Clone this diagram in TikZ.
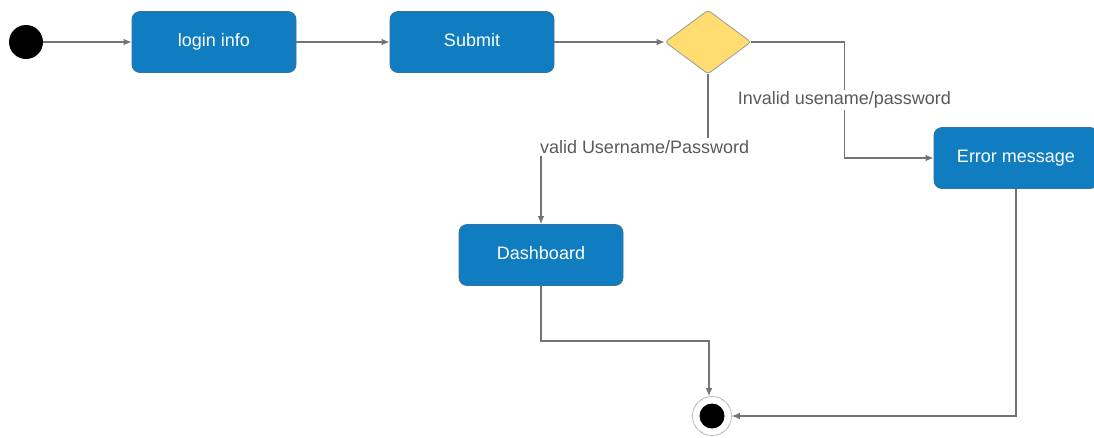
\documentclass[tikz,border=0pt]{standalone}
\usepackage{fontspec}
\setmainfont{Liberation Sans}
\usetikzlibrary{shapes.geometric,arrows.meta}
\definecolor{boxblue}{HTML}{0F7DC0}
\definecolor{boxedge}{HTML}{3573A3}
\definecolor{decyellow}{HTML}{FFDD71}
\definecolor{linegray}{HTML}{737373}
\definecolor{textgray}{HTML}{5A5A5A}
\begin{document}
\begin{tikzpicture}[x=1pt,y=-1pt,
  state/.style={draw=boxedge,line width=0.8pt,fill=boxblue,text=white,rounded corners=8pt,
    minimum width=164pt,minimum height=61pt,text height=13pt,text depth=4pt,
    font=\fontsize{18}{21}\selectfont},
  decision/.style={diamond,draw=gray!80,line width=0.8pt,fill=decyellow,rounded corners=3pt,
    minimum width=86pt,minimum height=64pt,inner sep=0pt},
  flow/.style={draw=linegray,line width=1.1pt,-{Latex[length=8pt,width=6.5pt]}},
  guard/.style={fill=white,text=textgray,inner sep=2pt,font=\fontsize{18}{21}\selectfont}]
\useasboundingbox (0,0) rectangle (1094,437);
% states
\node[circle,fill=black,minimum size=34pt,inner sep=0pt] (start) at (26,42) {};
\node[state] (login) at (214,42) {login info};
\node[state] (submit) at (472,42) {Submit};
\node[decision] (check) at (708,42) {};
\node[state] (error) at (1016,158) {Error message};
\node[state] (dash) at (541,255) {Dashboard};
\node[circle,draw=gray!70,line width=0.6pt,fill=white,minimum size=39pt,inner sep=0pt] (finish) at (712,416) {};
\fill[black] (finish) circle (12.5pt);
\coordinate (validbend) at (541,147);
\coordinate (dashbend) at (709,341);
% transitions
\draw[flow] (start) -- (login);
\draw[flow] (login) -- (submit);
\draw[flow] (submit) -- (check);
\draw[flow] (check.east) -- ++(93,0) |- node[guard,pos=0.25] {Invalid usename/password} (error.west);
\draw[flow] (check.south) |- node[guard,pos=0.69] {valid Username/Password} (validbend) -- (dash.north);
\draw[flow] (dash.south) |- (dashbend) -- (dashbend |- finish.north);
\draw[flow] (error.south) |- (finish.east);
\end{tikzpicture}
\end{document}
